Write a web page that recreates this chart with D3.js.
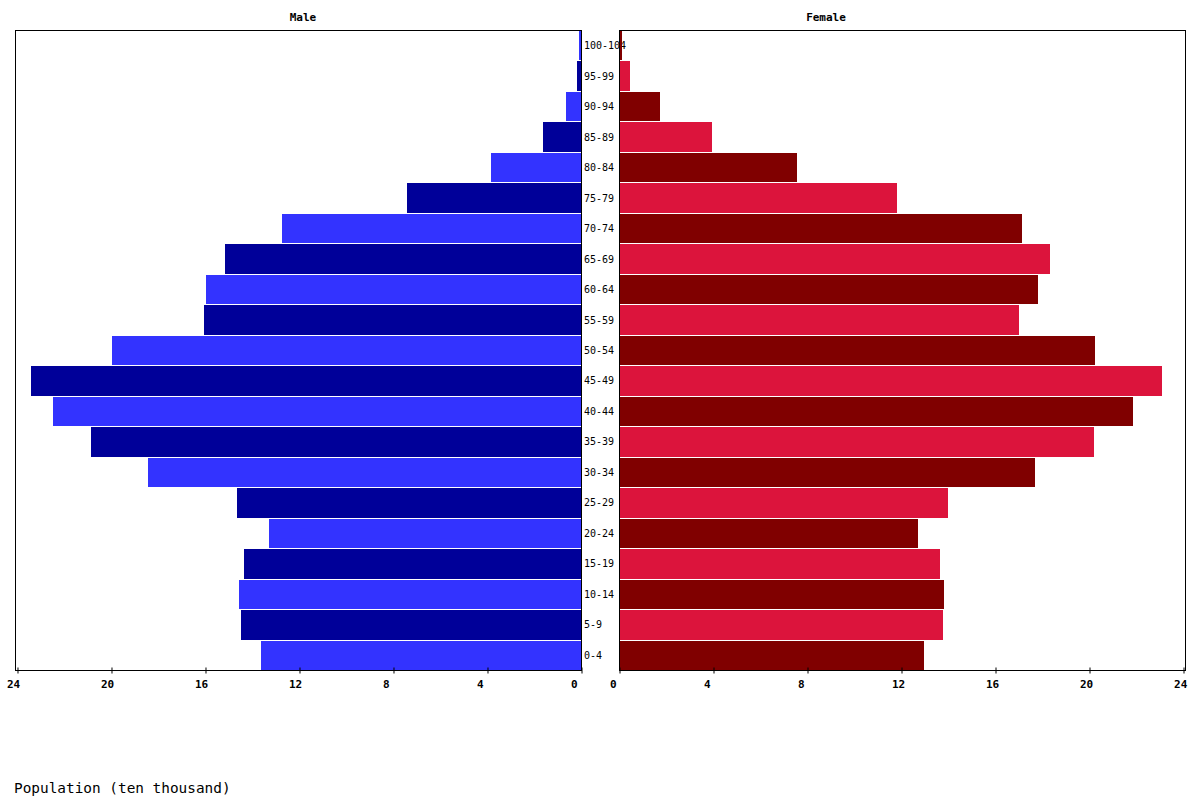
<!DOCTYPE html>
<html>
<head>
<meta charset="utf-8">
<script src="https://cdn.jsdelivr.net/npm/d3@7"></script>
<style>
  body { margin: 0; background: #fff; }
  text { font-family: "DejaVu Sans Mono", "Liberation Mono", monospace; }
</style>
</head>
<body>
<svg id="Target" width="1200" height="800"></svg>
<script>
// age groups, bottom to top
const ages = ["0-4","5-9","10-14","15-19","20-24","25-29","30-34","35-39","40-44","45-49",
  "50-54","55-59","60-64","65-69","70-74","75-79","80-84","85-89","90-94","95-99","100-104"];

// population in ten thousand
const male = [13.62, 14.47, 14.55, 14.34, 13.28, 14.64, 18.43, 20.85, 22.47, 23.40,
  19.96, 16.04, 15.96, 15.15, 12.72, 7.40, 3.83, 1.62, 0.64, 0.17, 0.09];
const female = [12.96, 13.77, 13.85, 13.68, 12.71, 14.02, 17.72, 20.23, 21.89, 23.12,
  20.27, 17.04, 17.85, 18.32, 17.13, 11.81, 7.56, 3.95, 1.74, 0.47, 0.13];

const tickVals = [0, 4, 8, 12, 16, 20, 24];

const plotTop = 30, plotBottom = 670;
const xMax = 24.085;

const svg = d3.select("#Target");

const y = d3.scaleBand()
  .domain(ages.slice().reverse())
  .range([plotTop, plotBottom]);

const xMale = d3.scaleLinear().domain([0, xMax]).range([581, 15]);
const xFemale = d3.scaleLinear().domain([0, xMax]).range([619, 1185]);

const maleColor = (d, i) => i % 2 ? "#000099" : "#3333ff";
const femaleColor = (d, i) => i % 2 ? "#dc143c" : "#800000";

// age labels (drawn before bars, the long one sits under the female bar)
svg.append("g")
  .selectAll("text")
  .data(ages)
  .join("text")
  .attr("x", 584)
  .attr("y", d => y(d) + y.bandwidth() / 2 + 4)
  .attr("font-size", 10)
  .attr("fill", "#000")
  .text(d => d);

svg.append("g")
  .attr("shape-rendering", "crispEdges")
  .selectAll("rect")
  .data(male)
  .join("rect")
  .attr("x", d => xMale(d))
  .attr("y", (d, i) => y(ages[i]) + 1)
  .attr("width", d => xMale(0) - xMale(d))
  .attr("height", y.bandwidth() - 1)
  .attr("fill", maleColor);

svg.append("g")
  .attr("shape-rendering", "crispEdges")
  .selectAll("rect")
  .data(female)
  .join("rect")
  .attr("x", xFemale(0))
  .attr("y", (d, i) => y(ages[i]) + 1)
  .attr("width", d => xFemale(d) - xFemale(0))
  .attr("height", y.bandwidth() - 1)
  .attr("fill", femaleColor);

// panel frames
[[15, 581], [619, 1185]].forEach(([a, b]) => {
  svg.append("rect")
    .attr("x", a + 0.5)
    .attr("y", plotTop + 0.5)
    .attr("width", b - a)
    .attr("height", plotBottom - plotTop)
    .attr("fill", "none")
    .attr("stroke", "#000")
    .attr("stroke-width", 1);
});

const drawAxis = (scale, dx) => {
  const g = svg.append("g")
    .attr("transform", `translate(0.5,${plotBottom + 0.5})`)
    .call(d3.axisBottom(scale).tickValues(tickVals).tickSize(3).tickFormat(d3.format("d")));
  g.select(".domain").remove();
  g.selectAll(".tick line").attr("y1", -3).attr("stroke", "#000");
  g.selectAll(".tick text")
    .attr("text-anchor", "start")
    .attr("x", dx)
    .attr("y", 10)
    .attr("dy", "0.71em")
    .attr("font-size", 11)
    .attr("font-weight", "bold")
    .attr("font-family", "DejaVu Sans Mono, monospace")
    .attr("fill", "#000");
};
drawAxis(xMale, -11);
drawAxis(xFemale, -10);

// titles
svg.append("text")
  .attr("x", 303).attr("y", 21)
  .attr("text-anchor", "middle")
  .attr("font-size", 11)
  .attr("font-weight", "bold")
  .text("Male");

svg.append("text")
  .attr("x", 826).attr("y", 21)
  .attr("text-anchor", "middle")
  .attr("font-size", 11)
  .attr("font-weight", "bold")
  .text("Female");

svg.append("text")
  .attr("x", 14).attr("y", 793)
  .attr("font-size", 14.4)
  .text("Population (ten thousand)");
</script>
</body>
</html>
